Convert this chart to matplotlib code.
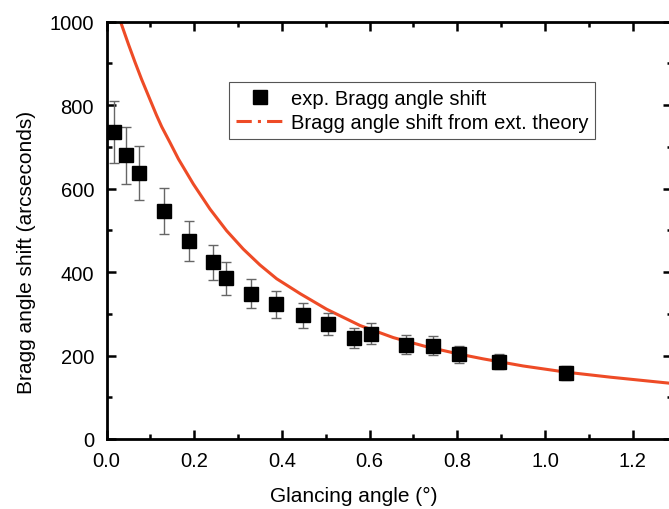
import numpy as np
import matplotlib
matplotlib.use("Agg")
import matplotlib.pyplot as plt
from matplotlib.lines import Line2D

plt.rcParams['font.family'] = ['Liberation Sans', 'DejaVu Sans']

# measured points
angle = [0.0165, 0.0447, 0.073, 0.130, 0.187, 0.243, 0.272, 0.329, 0.387,
         0.447, 0.506, 0.564, 0.603, 0.684, 0.744, 0.803, 0.895, 1.047]
shift = [735, 680, 637, 547, 475, 423, 385, 348, 323,
         296, 276, 242, 252, 226, 224, 203, 185, 158]
shift_err = [74, 68, 64, 55, 48, 43, 39, 35, 32,
             30, 27, 24, 25, 23, 22, 20, 18, 16]

# theory curve
theory_x = [0.032, 0.05, 0.065, 0.08, 0.095, 0.114, 0.126, 0.145, 0.164, 0.198,
            0.236, 0.274, 0.312, 0.350, 0.388, 0.442, 0.502, 0.578, 0.654,
            0.730, 0.806, 0.859, 0.95, 1.049, 1.15, 1.281, 1.30]
theory_y = [1000, 946, 903, 862, 824, 776, 748, 710, 671, 611,
            551, 499, 455, 417, 384, 348, 311, 272, 243,
            221, 203, 192, 175, 160, 148, 134, 132]

red = '#ee4b26'

fig = plt.figure(figsize=(6.69, 5.10), dpi=100)
ax = fig.add_axes([0.1592, 0.1373, 0.8455, 0.8182])

ax.plot(theory_x, theory_y, color=red, lw=2.2, zorder=2)
ax.errorbar(angle, shift, yerr=shift_err, fmt='s', color='black', ms=9.5,
            ecolor='#666666', elinewidth=1.0, capsize=3.6, capthick=1.0, zorder=3)

ax.set_xlim(0, 1.29)
ax.set_ylim(0, 1000)
ax.set_xticks(np.arange(0, 1.21, 0.2))
ax.set_xticks(np.arange(0.1, 1.3, 0.2), minor=True)
ax.set_yticks(np.arange(0, 1001, 200))
ax.set_yticks(np.arange(100, 1000, 200), minor=True)
ax.set_xticklabels(['0.0', '0.2', '0.4', '0.6', '0.8', '1.0', '1.2'])

for s in ax.spines.values():
    s.set_linewidth(2.0)
ax.tick_params(which='both', direction='in', top=True, right=True, width=1.8)
ax.tick_params(which='major', length=6.5, labelsize=14.5, pad=9)
ax.tick_params(which='minor', length=3.5)

ax.set_xlabel('Glancing angle (°)', fontsize=15)
ax.set_ylabel('Bragg angle shift (arcseconds)', fontsize=15)
ax.xaxis.set_label_coords(0.4375, -0.113)
ax.yaxis.set_label_coords(-0.125, 0.45)

handles = [Line2D([], [], marker='s', ls='none', color='black', ms=9.5),
           Line2D([], [], color=red, lw=2.2, ls=(0, (5, 2, 1, 2)))]
leg = ax.legend(handles, ['exp. Bragg angle shift', 'Bragg angle shift from ext. theory'],
                loc='upper left', bbox_to_anchor=(0.217, 0.855), fontsize=14.5,
                fancybox=False, framealpha=1, edgecolor='#555555',
                handlelength=2.4, handletextpad=0.3, borderpad=0.35,
                labelspacing=0.25, borderaxespad=0)
leg.get_frame().set_linewidth(0.8)

fig.savefig('out.png', dpi=100)
